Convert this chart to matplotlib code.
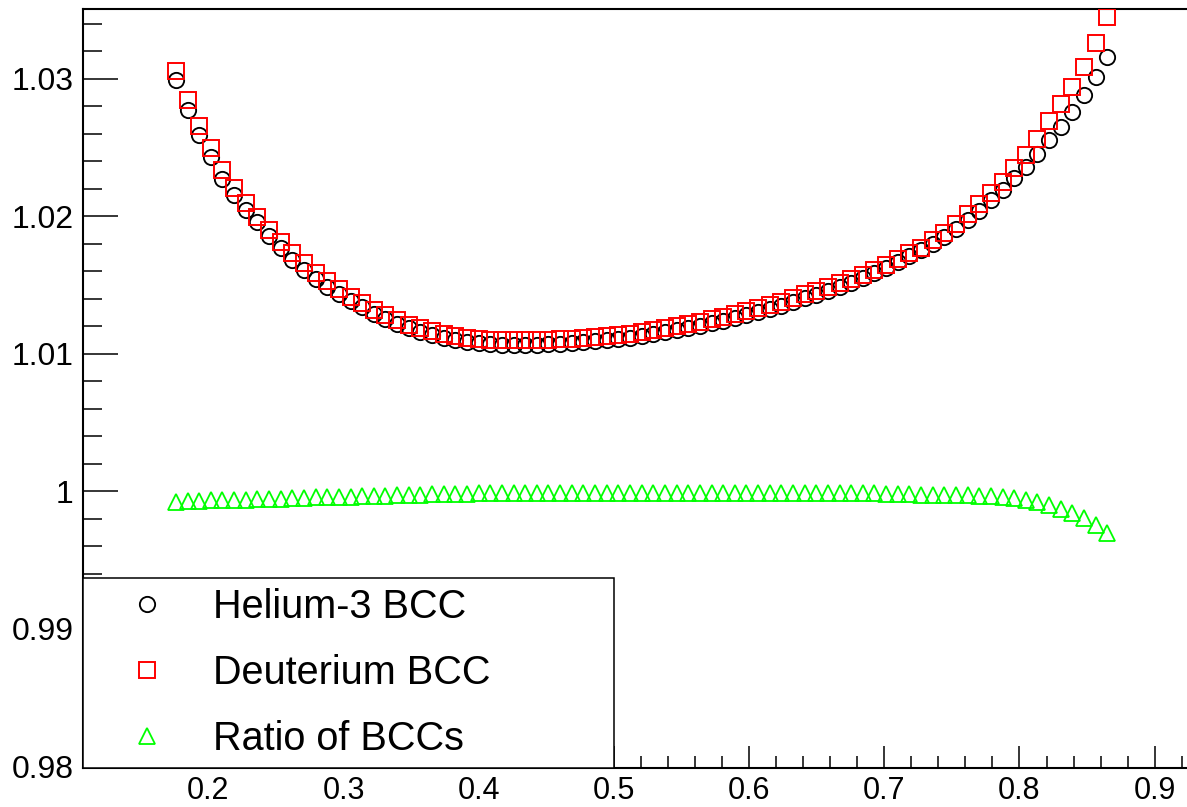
import matplotlib
matplotlib.use("Agg")
import matplotlib.pyplot as plt
from matplotlib.ticker import MultipleLocator, FuncFormatter

# ---------------- data ----------------
x_vals = [0.1760, 0.1846, 0.1932, 0.2018, 0.2104, 0.2191, 0.2277, 0.2363, 0.2449, 0.2535,
          0.2621, 0.2707, 0.2793, 0.2880, 0.2966, 0.3052, 0.3138, 0.3224, 0.3310, 0.3396,
          0.3482, 0.3569, 0.3655, 0.3741, 0.3827, 0.3913, 0.3999, 0.4085, 0.4171, 0.4258,
          0.4344, 0.4430, 0.4516, 0.4602, 0.4688, 0.4774, 0.4860, 0.4947, 0.5033, 0.5119,
          0.5205, 0.5291, 0.5377, 0.5463, 0.5549, 0.5636, 0.5722, 0.5808, 0.5894, 0.5980,
          0.6066, 0.6152, 0.6238, 0.6325, 0.6411, 0.6497, 0.6583, 0.6669, 0.6755, 0.6841,
          0.6927, 0.7014, 0.7100, 0.7186, 0.7272, 0.7358, 0.7444, 0.7530, 0.7616, 0.7703,
          0.7789, 0.7875, 0.7961, 0.8047, 0.8133, 0.8219, 0.8305, 0.8392, 0.8478, 0.8564,
          0.8650]

helium3_bcc = [1.02993, 1.02775, 1.02593, 1.02433, 1.02273, 1.02156, 1.02047, 1.01960, 1.01858, 1.01771,
               1.01684, 1.01611, 1.01545, 1.01487, 1.01436, 1.01385, 1.01342, 1.01291, 1.01255, 1.01218,
               1.01189, 1.01160, 1.01138, 1.01116, 1.01102, 1.01087, 1.01080, 1.01073, 1.01065, 1.01065,
               1.01065, 1.01065, 1.01073, 1.01073, 1.01080, 1.01087, 1.01095, 1.01102, 1.01109, 1.01116,
               1.01131, 1.01145, 1.01160, 1.01175, 1.01189, 1.01204, 1.01225, 1.01240, 1.01262, 1.01284,
               1.01305, 1.01327, 1.01349, 1.01378, 1.01407, 1.01429, 1.01458, 1.01487, 1.01516, 1.01553,
               1.01589, 1.01625, 1.01669, 1.01713, 1.01756, 1.01800, 1.01851, 1.01909, 1.01975, 1.02040,
               1.02120, 1.02193, 1.02280, 1.02360, 1.02455, 1.02556, 1.02651, 1.02760, 1.02884, 1.03015,
               1.03160]

deuterium_bcc = [1.03058, 1.02847, 1.02658, 1.02498, 1.02338, 1.02207, 1.02098, 1.01996, 1.01902, 1.01815,
                 1.01735, 1.01662, 1.01589, 1.01531, 1.01473, 1.01415, 1.01371, 1.01320, 1.01284, 1.01247,
                 1.01211, 1.01189, 1.01167, 1.01145, 1.01131, 1.01116, 1.01109, 1.01102, 1.01102, 1.01102,
                 1.01102, 1.01102, 1.01102, 1.01109, 1.01109, 1.01116, 1.01124, 1.01131, 1.01138, 1.01145,
                 1.01160, 1.01175, 1.01189, 1.01204, 1.01218, 1.01233, 1.01255, 1.01269, 1.01291, 1.01313,
                 1.01335, 1.01356, 1.01378, 1.01407, 1.01436, 1.01458, 1.01487, 1.01516, 1.01545, 1.01575,
                 1.01611, 1.01647, 1.01691, 1.01735, 1.01771, 1.01829, 1.01880, 1.01945, 1.02018, 1.02091,
                 1.02171, 1.02251, 1.02353, 1.02447, 1.02564, 1.02695, 1.02818, 1.02942, 1.03087, 1.03262,
                 1.03451]

ratio_bcc = [0.99924, 0.99931, 0.99931, 0.99938, 0.99938, 0.99938, 0.99938, 0.99945, 0.99945, 0.99945,
             0.99953, 0.99953, 0.99960, 0.99960, 0.99960, 0.99960, 0.99967, 0.99967, 0.99967, 0.99975,
             0.99975, 0.99975, 0.99982, 0.99982, 0.99982, 0.99982, 0.99989, 0.99989, 0.99989, 0.99989,
             0.99989, 0.99989, 0.99989, 0.99989, 0.99989, 0.99989, 0.99989, 0.99989, 0.99989, 0.99989,
             0.99989, 0.99989, 0.99989, 0.99989, 0.99989, 0.99989, 0.99989, 0.99989, 0.99989, 0.99989,
             0.99989, 0.99989, 0.99989, 0.99989, 0.99989, 0.99989, 0.99989, 0.99989, 0.99989, 0.99989,
             0.99989, 0.99982, 0.99982, 0.99982, 0.99975, 0.99975, 0.99975, 0.99975, 0.99975, 0.99967,
             0.99967, 0.99960, 0.99953, 0.99938, 0.99924, 0.99902, 0.99873, 0.99844, 0.99807, 0.99756,
             0.99698]

series_labels = ["Helium-3 BCC", "Deuterium BCC", "Ratio of BCCs"]

# ---------------- figure ----------------
FONT = "Liberation Sans"
W, H = 1187, 807
fig = plt.figure(figsize=(W / 100, H / 100), dpi=100)
fig.patch.set_facecolor("white")

ax = fig.add_axes([83 / W, (H - 768) / H, (W - 83) / W, (768 - 9) / H])
ax.set_xlim(0.1073, 0.9239)
ax.set_ylim(0.97989, 1.03509)

ax.plot(x_vals, helium3_bcc, linestyle="none", marker="o", markersize=11,
        markerfacecolor="none", markeredgecolor="black", markeredgewidth=1.35,
        label=series_labels[0], zorder=3)
ax.plot(x_vals, deuterium_bcc, linestyle="none", marker="s", markersize=11,
        markerfacecolor="none", markeredgecolor="#ff0000", markeredgewidth=1.4,
        label=series_labels[1], zorder=3)
ax.plot(x_vals, ratio_bcc, linestyle="none", marker="^", markersize=11,
        markerfacecolor="none", markeredgecolor="#00ff00", markeredgewidth=1.3,
        label=series_labels[2], zorder=3)

# spines
for side in ["left", "bottom", "top"]:
    ax.spines[side].set_linewidth(1.5)
    ax.spines[side].set_color("black")
ax.spines["right"].set_visible(False)

# ticks
ax.xaxis.set_major_locator(MultipleLocator(0.1))
ax.xaxis.set_minor_locator(MultipleLocator(0.02))
ax.yaxis.set_major_locator(MultipleLocator(0.01))
ax.yaxis.set_minor_locator(MultipleLocator(0.002))
ax.yaxis.set_major_formatter(FuncFormatter(lambda v, p: "%g" % round(v, 4)))
ax.xaxis.set_major_formatter(FuncFormatter(lambda v, p: "%g" % round(v, 4)))

ax.tick_params(axis="x", which="major", direction="in", length=16, width=1.1,
               labelsize=22, pad=6, top=False)
ax.tick_params(axis="x", which="minor", direction="in", length=8.5, width=1.1, top=False)
ax.tick_params(axis="y", which="major", direction="in", length=25, width=1.1,
               labelsize=23, pad=7, right=False)
ax.tick_params(axis="y", which="minor", direction="in", length=13.5, width=1.1, right=False)
for lab in ax.get_xticklabels() + ax.get_yticklabels():
    lab.set_fontfamily(FONT)

# legend
leg = ax.legend(loc="lower left", bbox_to_anchor=(0, 0, (614 - 83) / (W - 83), 1),
                mode="expand", borderaxespad=0,
                prop={"family": FONT, "size": 28.5},
                borderpad=0.255, labelspacing=0.707, handlelength=2.73,
                handletextpad=0.3, fancybox=False, framealpha=1,
                edgecolor="black", numpoints=1)
leg.get_frame().set_linewidth(1.1)
leg.set_zorder(5)

fig.savefig("out.png", dpi=100, facecolor="white")
